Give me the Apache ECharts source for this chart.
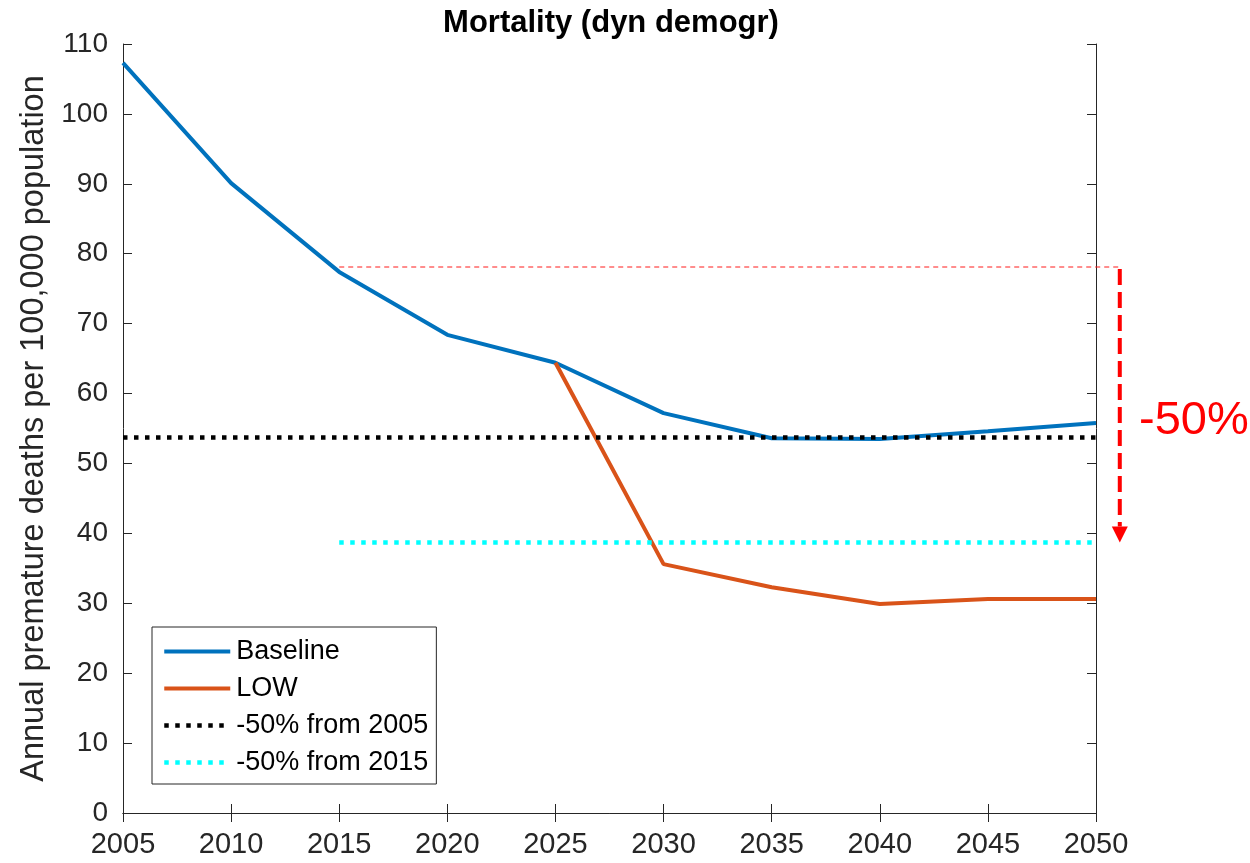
<!DOCTYPE html>
<html>
<head>
    <meta charset="utf-8">
    <title>Mortality (dyn demogr)</title>
    <script src="https://cdn.jsdelivr.net/npm/echarts@6/dist/echarts.min.js"></script>
</head>
<body style="margin:0">
    <div id="main" style="width:1250px;height:863px;"></div>
    <script type="text/javascript">
        var years = [2005, 2010, 2015, 2020, 2025, 2030, 2035, 2040, 2045, 2050];
        var baseline = [107.3, 90.1, 77.4, 68.4, 64.4, 57.2, 53.6, 53.5, 54.6, 55.8];
        var lowYears = [2025, 2030, 2035, 2040, 2045, 2050];
        var low = [64.4, 35.6, 32.3, 29.9, 30.6, 30.6];
        var target2005 = 53.7;   // half of 2005 value
        var target2015 = 38.7;   // half of 2015 value
        var refLevel = 78.1;     // top of the -50% arrow
        var arrowYear = 2051.1;

        function pairs(xs, ys) {
            return xs.map(function (x, i) { return [x, ys[i]]; });
        }

        var font = 'Liberation Sans, Arial, sans-serif';
        var axisColor = '#262626';

        var myChart = echarts.init(document.getElementById('main'));

        // 参考虚线 + 红色箭头（超出绘图区，所以用 custom 系列）
        function renderArrow(params, api) {
            var top = api.coord([api.value(0), api.value(1)]);
            var bottom = api.coord([api.value(0), api.value(2)]);
            var start = api.coord([api.value(3), api.value(1)]);
            var headH = 16, headW = 8;
            return {
                type: 'group',
                children: [
                    {
                        type: 'line',
                        shape: { x1: start[0], y1: top[1], x2: top[0], y2: top[1] },
                        style: { stroke: '#ff1a1a', lineWidth: 1, lineDash: [5, 4] }
                    },
                    {
                        type: 'line',
                        shape: { x1: top[0], y1: top[1] + 2, x2: bottom[0], y2: bottom[1] - headH },
                        style: { stroke: '#ff0000', lineWidth: 4, lineDash: [16, 7] }
                    },
                    {
                        type: 'polygon',
                        shape: { points: [[bottom[0] - headW, bottom[1] - headH], [bottom[0] + headW, bottom[1] - headH], [bottom[0], bottom[1]]] },
                        style: { fill: '#ff0000' }
                    }
                ]
            };
        }

        var option = {
            animation: false,
            backgroundColor: '#fff',
            textStyle: { fontFamily: font },
            grid: { left: 123, right: 154, top: 44, bottom: 50 },
            graphic: [
                {
                    type: 'text', x: 611, y: 23,
                    style: { text: 'Mortality (dyn demogr)', font: 'bold 31px ' + font, fill: '#000', align: 'center', verticalAlign: 'middle' }
                },
                {
                    type: 'text', x: 1139, y: 421,
                    style: { text: '-50%', font: '47px ' + font, fill: '#ff0000', verticalAlign: 'middle' }
                }
            ],
            legend: {
                left: 152, top: 627, orient: 'vertical',
                data: ['Baseline', 'LOW', '-50% from 2005', '-50% from 2015'],
                backgroundColor: '#fff', borderColor: axisColor, borderWidth: 1, borderRadius: 0,
                padding: [11, 8, 8, 10],
                itemWidth: 66, itemHeight: 14, itemGap: 10,
                itemStyle: { opacity: 0 },
                lineStyle: { width: 'inherit' },
                textStyle: { fontSize: 27, color: '#000', fontFamily: font, padding: [0, 0, 0, 1] }
            },
            xAxis: [
                {
                    type: 'value', min: 2005, max: 2050, interval: 5,
                    axisLine: { lineStyle: { color: axisColor, width: 1 } },
                    axisTick: { inside: true, length: 9, lineStyle: { color: axisColor } },
                    axisLabel: { fontSize: 29, color: axisColor, margin: 17, formatter: function (v) { return String(v); } },
                    splitLine: { show: false }
                },
                {
                    type: 'value', position: 'top', min: 2005, max: 2050, interval: 5,
                    axisLine: { show: true, lineStyle: { color: axisColor, width: 1 } },
                    axisTick: { inside: true, length: 9, lineStyle: { color: axisColor } },
                    axisLabel: { show: false },
                    splitLine: { show: false }
                }
            ],
            yAxis: [
                {
                    type: 'value', min: 0, max: 110, interval: 10,
                    name: 'Annual premature deaths per 100,000 population',
                    nameLocation: 'middle', nameGap: 68,
                    nameTextStyle: { fontSize: 32.5, color: axisColor },
                    axisLine: { show: true, lineStyle: { color: axisColor, width: 1 } },
                    axisTick: { show: true, inside: true, length: 9, lineStyle: { color: axisColor } },
                    axisLabel: { fontSize: 28, color: axisColor, margin: 15 },
                    splitLine: { show: false }
                },
                {
                    type: 'value', position: 'right', min: 0, max: 110, interval: 10,
                    axisLine: { show: true, lineStyle: { color: axisColor, width: 1 } },
                    axisTick: { show: true, inside: true, length: 9, lineStyle: { color: axisColor } },
                    axisLabel: { show: false },
                    splitLine: { show: false }
                }
            ],
            series: [
                {
                    name: 'Baseline', type: 'line', symbol: 'none',
                    data: pairs(years, baseline),
                    lineStyle: { color: '#0072BD', width: 4 }, itemStyle: { color: '#0072BD' }
                },
                {
                    name: 'LOW', type: 'line', symbol: 'none',
                    data: pairs(lowYears, low),
                    lineStyle: { color: '#D95319', width: 4 }, itemStyle: { color: '#D95319' }
                },
                {
                    name: '-50% from 2005', type: 'line', symbol: 'none',
                    data: [[2005, target2005], [2050, target2005]],
                    lineStyle: { color: '#000', width: 4.5, type: [4.5, 6.5] }, itemStyle: { color: '#000' }
                },
                {
                    name: '-50% from 2015', type: 'line', symbol: 'none',
                    data: [[2015, target2015], [2050, target2015]],
                    lineStyle: { color: '#00FFFF', width: 4.5, type: [4.5, 6.5] }, itemStyle: { color: '#00FFFF' }
                },
                {
                    name: 'arrow', type: 'custom', clip: false, silent: true,
                    renderItem: renderArrow,
                    encode: { x: 0, y: [1, 2] },
                    data: [[arrowYear, refLevel, target2015, 2015]]
                }
            ]
        };
        myChart.setOption(option);
    </script>
</body>
</html>
